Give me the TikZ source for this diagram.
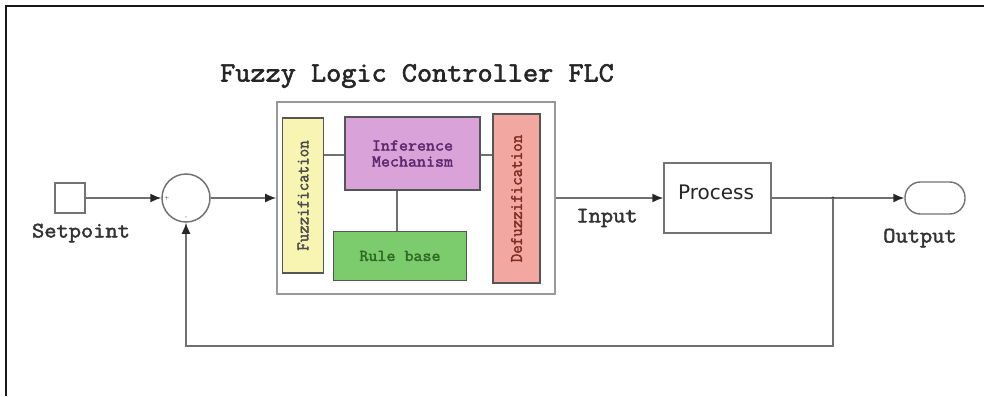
\documentclass[tikz,border=0pt]{standalone}
\usepackage{fontspec}
\setmonofont{Latin Modern Mono}[AutoFakeBold=2.2]
\newfontfamily\procfont{DejaVu Sans}
\usetikzlibrary{arrows.meta}
\definecolor{wire}{HTML}{707070}
\definecolor{edge}{HTML}{555555}
\definecolor{fuzzfill}{HTML}{F8F5B2}
\definecolor{inffill}{HTML}{D9A2D8}
\definecolor{inftext}{HTML}{5E2A6E}
\definecolor{rulefill}{HTML}{7CCB6C}
\definecolor{ruletext}{HTML}{2F6A25}
\definecolor{defuzzfill}{HTML}{F2A8A1}
\definecolor{defuzztext}{HTML}{7A2E26}
\tikzset{
  wire/.style={draw=wire, line width=1.6pt},
  arr/.style={wire, -{Latex[length=11pt,width=9pt,color=black!85]}},
  blockbox/.style={draw=edge, line width=1.4pt, rectangle, inner sep=0pt},
  monolabel/.style={font=\ttfamily\bfseries\fontsize{22}{24}\selectfont, text=black!80, xscale=1.08},
  inner/.style={font=\ttfamily\bfseries\fontsize{16.5}{19}\selectfont, xscale=1.06},
}
\begin{document}
\begin{tikzpicture}[x=1pt,y=-1pt]
  \useasboundingbox (0,0) rectangle (984,396);
  \fill[white] (0,0) rectangle (984,396);
  % outer frame
  \draw[line width=2.2pt, black!90] (6,396) -- (6,6) -- (984,6);

  % controller enclosure and title
  \node[draw=black!40, line width=1.6pt, minimum width=278pt, minimum height=192pt, inner sep=0pt] (flc) at (416,198) {};
  \node[font=\ttfamily\bfseries\fontsize{28}{30}\selectfont, text=black!85, xscale=1.05] (title) at (417,76) {Fuzzy Logic Controller FLC};

  % controller stages
  \node[blockbox, fill=fuzzfill, minimum width=41pt, minimum height=155pt] (fuzz) at (303,195.5) {};
  \node[inner, rotate=90, text=black!70] (fuzzt) at (fuzz.center) {Fuzzification};
  \node[blockbox, fill=inffill, minimum width=135pt, minimum height=73pt] (inf) at (412.5,153.5) {};
  \node[inner, align=center, text=inftext] (inft) at (inf.center) {Inference\\[-3pt]Mechanism};
  \node[blockbox, fill=rulefill, minimum width=133pt, minimum height=49pt] (rule) at (400,256) {};
  \node[inner, text=ruletext] (rulet) at (rule.center) {Rule base};
  \node[blockbox, fill=defuzzfill, minimum width=47pt, minimum height=169pt] (defuzz) at (516.5,198.5) {};
  \node[inner, rotate=90, text=defuzztext] (defuzzt) at (defuzz.center) {Defuzzification};

  \draw[wire] (inf.west |- 0,155) -- (fuzz.east |- 0,155);
  \draw[wire] (inf.east |- 0,155) -- (defuzz.west |- 0,155);
  \draw[wire] ([xshift=-3pt]rule.north) -- ([xshift=-3pt]rule.north |- inf.south);

  % setpoint and summing junction
  \node[draw=black!55, line width=1.4pt, minimum size=30pt, inner sep=0pt] (sp) at (70,198) {};
  \node[monolabel] (spl) at (81,233) {Setpoint};
  \node[draw=black!55, line width=1.5pt, circle, minimum size=48pt, inner sep=0pt] (sum) at (186,198) {};
  \node[font=\fontsize{5}{5}\selectfont, inner sep=0pt] (plus) at (167,198) {+};
  \node[font=\fontsize{5}{5}\selectfont, inner sep=0pt] (minus) at (186,218) {-};

  % plant and output
  \node[draw=black!55, line width=1.4pt, minimum width=107pt, minimum height=70pt, inner sep=0pt] (proc) at (717.5,198) {};
  \node[font=\procfont\fontsize{20}{22}\selectfont, text=black!85] (proct) at (716,192) {Process};
  \node[monolabel] (inl) at (607,218) {Input};
  \node[draw=black!55, line width=1.4pt, minimum width=60pt, minimum height=32pt, rounded corners=15.5pt, inner sep=0pt] (out) at (935,198) {};
  \node[monolabel] (outl) at (920,238) {Output};

  % signal flow
  \draw[arr] (sp.east) -- (sum.west);
  \draw[arr] (sum.east) -- (flc.west |- sum.east);
  \draw[arr] (flc.east |- proc.west) -- (proc.west);
  \coordinate (branch) at (833,198);
  \coordinate (low) at (833,346);
  \draw[arr] (proc.east) -- (out.west);
  \fill[black!80] (branch) circle (1.6pt);
  \draw[arr] (branch) -- (low) -| (sum.south);
\end{tikzpicture}
\end{document}
